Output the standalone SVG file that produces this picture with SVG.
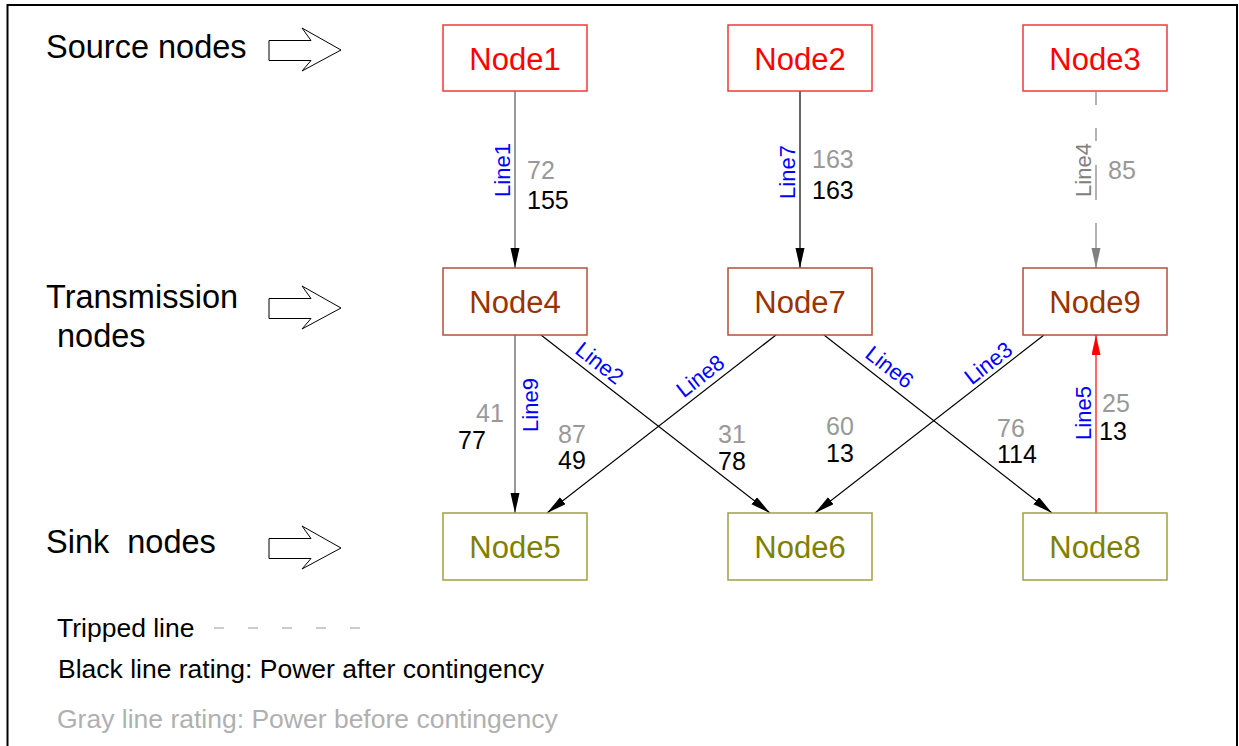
<svg xmlns="http://www.w3.org/2000/svg" width="1239" height="746" viewBox="0 0 1239 746">
  <style>
    text { font-family: "Liberation Sans", Arial, sans-serif; }
    .lbl { font-size: 32.5px; fill: #000; white-space: pre; }
    .node rect { fill: #fff; stroke-width: 1.5; }
    .node text { font-size: 31px; text-anchor: middle; }
    .src rect { stroke: #f03a3a; } .src text { fill: #ff0000; }
    .trn rect { stroke: #b0503a; } .trn text { fill: #993300; }
    .snk rect { stroke: #a0a040; } .snk text { fill: #808000; }
    .ln { font-size: 22px; fill: #0000ff; text-anchor: middle; }
    .ln.off { fill: #808080; }
    .pre { font-size: 25px; fill: #999; }
    .post { font-size: 25px; fill: #000; }
    .wire { fill: none; stroke-width: 1.2; }
    .blk { fill: #fff; stroke: #000; stroke-width: 1; }
    .legend { font-size: 26.5px; }
  </style>
  <defs>
    <marker id="ahBlack" markerUnits="userSpaceOnUse" markerWidth="21" markerHeight="10" refX="20" refY="4.5" orient="auto">
      <path d="M0,0 L20,4.5 L0,9 z" fill="#000"/>
    </marker>
    <marker id="ahGray" markerUnits="userSpaceOnUse" markerWidth="21" markerHeight="10" refX="20" refY="4.5" orient="auto">
      <path d="M0,0 L20,4.5 L0,9 z" fill="#808080"/>
    </marker>
    <marker id="ahRed" markerUnits="userSpaceOnUse" markerWidth="21" markerHeight="10" refX="20" refY="4.5" orient="auto">
      <path d="M0,0 L20,4.5 L0,9 z" fill="#ff0000"/>
    </marker>
    <polygon id="blockArrow" class="blk" points="0,-9.5 42,-9.5 33,-22 72,0 33,21 42,10.5 0,10.5"/>
  </defs>

  <rect width="1239" height="746" fill="#fff"/>
  <!-- outer frame (open at the bottom) -->
  <path d="M7.5,746 V5 H1237 V746" fill="none" stroke="#000" stroke-width="2"/>

  <!-- tier captions -->
  <g id="captions">
    <text class="lbl" x="46" y="58">Source nodes</text>
    <text class="lbl" x="46" y="308">Transmission</text>
    <text class="lbl" x="57" y="347">nodes</text>
    <text class="lbl" x="46" y="553" xml:space="preserve">Sink  nodes</text>
    <use href="#blockArrow" x="269" y="50"/>
    <use href="#blockArrow" x="269" y="308"/>
    <use href="#blockArrow" x="269" y="548"/>
  </g>

  <!-- connectors -->
  <g id="connectors">
    <path class="wire" d="M515,91 V268" stroke="#555" marker-end="url(#ahBlack)"/>
    <path class="wire" d="M800,91 V268" stroke="#000" marker-end="url(#ahBlack)"/>
    <path class="wire" d="M1096,92 V105 M1096,128 V141 M1096,165 V200" stroke="#808080"/>
    <path class="wire" d="M1096,223 V268" stroke="#808080" marker-end="url(#ahGray)"/>
    <path class="wire" d="M515,335 V513" stroke="#555" marker-end="url(#ahBlack)"/>
    <path class="wire" d="M541,335 L770,513" stroke="#000" marker-end="url(#ahBlack)"/>
    <path class="wire" d="M776,335 L547,513" stroke="#000" marker-end="url(#ahBlack)"/>
    <path class="wire" d="M824,335 L1052,513" stroke="#000" marker-end="url(#ahBlack)"/>
    <path class="wire" d="M1044,335 L815,513" stroke="#000" marker-end="url(#ahBlack)"/>
    <path class="wire" d="M1096,513 V335" stroke="#ff0000" marker-end="url(#ahRed)"/>

    <!-- line names -->
    <text class="ln" transform="translate(510,170) rotate(-90)">Line1</text>
    <text class="ln" transform="translate(795,172) rotate(-90)">Line7</text>
    <text class="ln off" transform="translate(1091,170) rotate(-90)">Line4</text>
    <text class="ln" transform="translate(538,405) rotate(-90)">Line9</text>
    <text class="ln" transform="translate(595,369) rotate(37.9)">Line2</text>
    <text class="ln" transform="translate(705,382) rotate(-37.9)">Line8</text>
    <text class="ln" transform="translate(885,373) rotate(37.9)">Line6</text>
    <text class="ln" transform="translate(993,369) rotate(-37.9)">Line3</text>
    <text class="ln" transform="translate(1091,413) rotate(-90)">Line5</text>

    <!-- flows: before / after contingency -->
    <text class="pre" x="527" y="179">72</text>
    <text class="post" x="527" y="209">155</text>
    <text class="pre" x="812" y="168">163</text>
    <text class="post" x="812" y="199">163</text>
    <text class="pre" x="1108" y="179">85</text>
    <text class="pre" x="476" y="422">41</text>
    <text class="post" x="458" y="449">77</text>
    <text class="pre" x="558" y="443">87</text>
    <text class="post" x="558" y="469">49</text>
    <text class="pre" x="718" y="443">31</text>
    <text class="post" x="718" y="470">78</text>
    <text class="pre" x="826" y="435">60</text>
    <text class="post" x="826" y="462">13</text>
    <text class="pre" x="997" y="437">76</text>
    <text class="post" x="997" y="463">114</text>
    <text class="pre" x="1102" y="412">25</text>
    <text class="post" x="1099" y="440">13</text>
  </g>

  <!-- source nodes -->
  <g id="node1" class="node src"><rect x="443" y="25" width="144" height="66"/><text x="515" y="70">Node1</text></g>
  <g id="node2" class="node src"><rect x="728" y="25" width="144" height="66"/><text x="800" y="70">Node2</text></g>
  <g id="node3" class="node src"><rect x="1023" y="25" width="144" height="66"/><text x="1095" y="70">Node3</text></g>

  <!-- transmission nodes -->
  <g id="node4" class="node trn"><rect x="443" y="268" width="144" height="67"/><text x="515" y="313">Node4</text></g>
  <g id="node7" class="node trn"><rect x="728" y="268" width="144" height="67"/><text x="800" y="313">Node7</text></g>
  <g id="node9" class="node trn"><rect x="1023" y="268" width="144" height="67"/><text x="1095" y="313">Node9</text></g>

  <!-- sink nodes -->
  <g id="node5" class="node snk"><rect x="443" y="513" width="144" height="67"/><text x="515" y="558">Node5</text></g>
  <g id="node6" class="node snk"><rect x="728" y="513" width="144" height="67"/><text x="800" y="558">Node6</text></g>
  <g id="node8" class="node snk"><rect x="1023" y="513" width="144" height="67"/><text x="1095" y="558">Node8</text></g>

  <!-- legend -->
  <g id="legend">
    <text class="legend" x="57" y="637" fill="#000">Tripped line</text>
    <path d="M214,628 H362" stroke="#999" stroke-width="1.2" stroke-dasharray="10 24"/>
    <text class="legend" x="58" y="678" fill="#000">Black line rating: Power after contingency</text>
    <text class="legend" x="57" y="728" fill="#b0b0b0">Gray line rating: Power before contingency</text>
  </g>
</svg>
